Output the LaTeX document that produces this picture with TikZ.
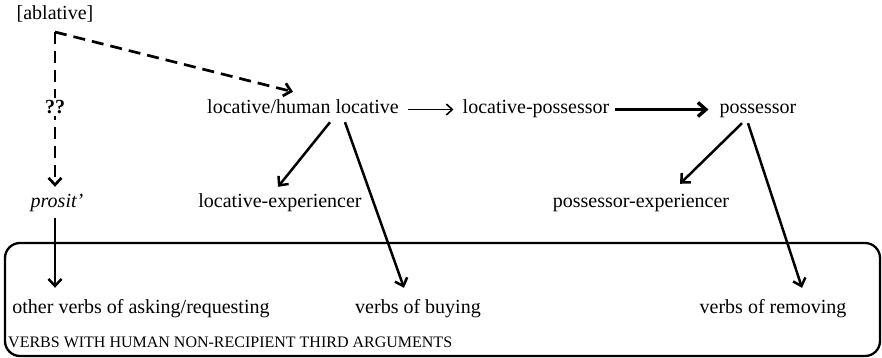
\documentclass[tikz,border=0pt]{standalone}
\usepackage{fontspec}
\setmainfont{Liberation Serif}
\usetikzlibrary{arrows.meta,calc}
\begin{document}
\begin{tikzpicture}[x=1pt,y=-1pt,
  lbl/.style={inner sep=0pt, anchor=base, text height=13pt, text depth=4pt, font=\fontsize{20}{24}\selectfont},
  arr/.style={line width=2.5pt, -{Straight Barb[length=7pt,width=13pt]}},
  thinarr/.style={line width=1.6pt, -{Straight Barb[length=6pt,width=11pt]}},
  thickarr/.style={line width=3.4pt, -{Straight Barb[length=8pt,width=14pt]}},
  dasharr/.style={line width=2.7pt, dash pattern=on 12pt off 7pt, -{Straight Barb[length=7pt,width=13pt]}},
  frame/.style={line width=2.3pt, rounded corners=15pt}]
\useasboundingbox (0,0) rectangle (882,358);
% nodes
\node[lbl] (abl) at (55,20) {[ablative]};
\node[lbl] (loc) at (303,114) {locative/human locative};
\node[lbl] (lp) at (536,114) {locative-possessor};
\node[lbl] (poss) at (758,114) {possessor};
\node[lbl] (pros) at (57,207) {\itshape prosit’};
\node[lbl] (le) at (280,207) {locative-experiencer};
\node[lbl] (pe) at (641,207) {possessor-experiencer};
\node[lbl] (ovr) at (141,313) {other verbs of asking/requesting};
\node[lbl] (vb) at (418,313) {verbs of buying};
\node[lbl] (vr) at (773,313) {verbs of removing};
\node[inner sep=0pt, anchor=base west, font=\fontsize{16}{19}\selectfont] (caps) at (8,347) {VERBS WITH HUMAN NON-RECIPIENT THIRD ARGUMENTS};
% frame
\draw[frame] (5,243) rectangle (880,356);
% dashed arrows
\coordinate (corner) at (55,32);
\draw[dasharr] (corner) -- ($(pros.north)+(-2,-7)$);
\draw[dasharr] (corner) -- ($(loc.north)+(-10,-9)$);
\node[fill=white, inner sep=2pt, font=\fontsize{20}{24}\selectfont\bfseries] (qq) at (55,107) {??};
% solid arrows
\draw[thinarr] ($(loc.east)+(9,0)$) -- ($(lp.west)+(-9,0)$);
\draw[thickarr] ($(lp.east)+(5,0)$) -- ($(poss.west)+(-11,0)$);
\draw[arr] ($(loc.south)+(27,4)$) -- ($(le.north)+(-2,-7)$);
\draw[arr] ($(loc.south)+(42,4)$) -- ($(vb.north)+(-14,-12)$);
\coordinate (ps) at ($(pros.south)+(-2,7)$);
\coordinate (ovrtop) at ($(ovr.north)+(0,-12)$);
\draw[arr] (ps) -- (ps |- ovrtop);
\draw[arr] ($(poss.south)+(-16,5)$) -- ($(pe.north)+(39,-10)$);
\draw[arr] ($(poss.south)+(-10,5)$) -- ($(vr.north)+(29,-12)$);
\end{tikzpicture}
\end{document}
